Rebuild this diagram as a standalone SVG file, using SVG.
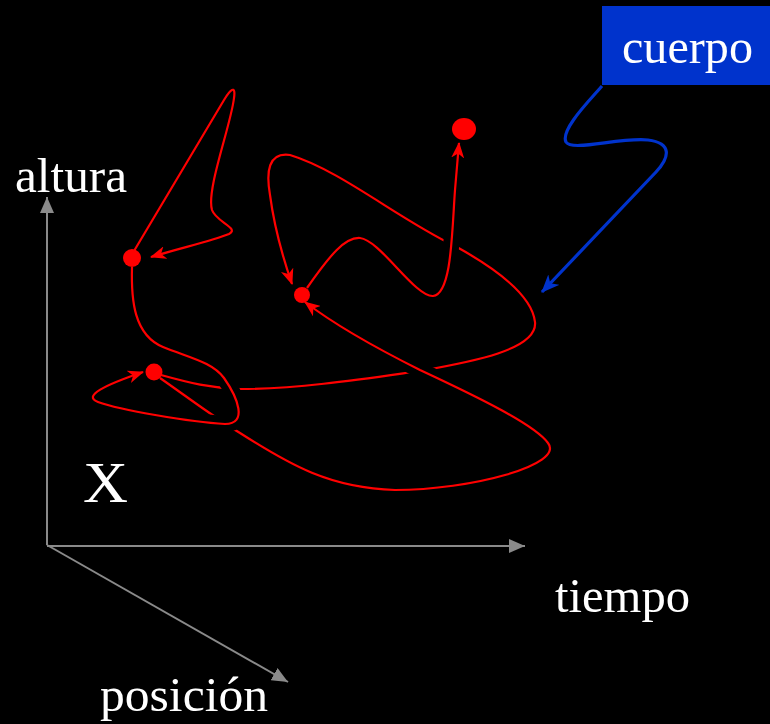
<svg xmlns="http://www.w3.org/2000/svg" width="770" height="724" viewBox="0 0 770 724">
<style>
.txt{font-family:"Liberation Serif","Times New Roman",serif;fill:#ffffff}
.axis{stroke:#8a8a8a;stroke-width:2;fill:none}
.red{stroke:#ff0000;stroke-width:2.2;fill:none;marker-end:url(#ra)}
.halo{stroke:#000000;stroke-width:16;fill:none}
.dot{fill:#ff0000}
</style>
<defs>
<marker id="ra" markerUnits="userSpaceOnUse" markerWidth="16" markerHeight="13" viewBox="0 0 16 13" refX="15" refY="6.5" orient="auto">
<path d="M0,0 L16,6.5 L0,13 L4.5,6.5 z" fill="#ff0000"/>
</marker>
<marker id="ba" markerUnits="userSpaceOnUse" markerWidth="18" markerHeight="15" viewBox="0 0 18 15" refX="17" refY="7.5" orient="auto">
<path d="M0,0 L18,7.5 L0,15 L5,7.5 z" fill="#0033cc"/>
</marker>
<marker id="ga" markerUnits="userSpaceOnUse" markerWidth="16" markerHeight="14" viewBox="0 0 16 14" refX="16" refY="7" orient="auto">
<path d="M0,0 L16,7 L0,14 z" fill="#8a8a8a"/>
</marker>
</defs>
<rect width="770" height="724" fill="#000000"/>

<g id="axes">
<line class="axis" x1="47" y1="545" x2="47" y2="197" marker-end="url(#ga)"/>
<line class="axis" x1="47" y1="546" x2="525" y2="546" marker-end="url(#ga)"/>
<line class="axis" x1="47" y1="545" x2="288" y2="682" marker-end="url(#ga)"/>
</g>

<g id="labels">
<text class="txt" x="15" y="192" font-size="48" textLength="112" lengthAdjust="spacingAndGlyphs">altura</text>
<text class="txt" x="83" y="502" font-size="58" textLength="45" lengthAdjust="spacingAndGlyphs">X</text>
<text class="txt" x="555" y="612" font-size="48" textLength="135" lengthAdjust="spacingAndGlyphs">tiempo</text>
<text class="txt" x="100" y="711" font-size="48" textLength="168" lengthAdjust="spacingAndGlyphs">posición</text>
</g>

<g id="cuerpo">
<rect x="602" y="6" width="168" height="79" fill="#0033cc"/>
<text class="txt" x="622" y="63" font-size="48" textLength="131" lengthAdjust="spacingAndGlyphs">cuerpo</text>
</g>

<g id="connectors">
<path id="c3" class="red" d="M161,375 C190,383 210,388 240,389 C300,389 370,378 420,371 C470,362 538,350 535,322 C532,295 495,268 455,246 C400,220 340,170 290,155 C268,152 266,172 270,195 C274,225 283,258 292,284"/>
<path class="halo" d="M470,394 C450,385 435,377 420,370 C405,363 392,356 380,351"/>
<path id="c4" class="red" d="M160,378 C190,399 215,418 240,433 C290,465 330,488 395,490 C470,490 565,465 548,443 C535,425 480,398 420,370 C380,350 335,325 305,302"/>
<path class="halo" d="M132,270 C131,300 134,335 163,347 C190,358 212,362 224,378 C238,398 248,424 225,424 C190,422 120,410 98,402 C82,396 105,385 138,374"/>
<path id="c2" class="red" d="M132,267 C131,300 134,335 163,347 C190,358 212,362 224,378 C238,398 248,424 225,424 C190,422 120,410 98,402 C82,396 105,385 143,372"/>
<path class="halo" d="M312,282 C330,255 345,237 360,238 C380,240 415,297 433,296 C452,294 452,230 455,190 L458,160"/>
<path id="c5" class="red" d="M307,288 C330,255 345,237 360,238 C380,240 415,297 433,296 C452,294 452,230 455,190 L459,143"/>
<path id="c1" class="red" d="M134,251 L224,100 C230,90 236,84 234,98 C231,125 206,190 212,210 C216,222 240,228 229,234 C212,241 180,248 151,257"/>
<path id="cb" d="M602,86 C590,100 560,130 566,142 C572,152 620,137 648,140 C672,143 670,157 656,172 L542,292" stroke="#0033cc" stroke-width="3.2" fill="none" marker-end="url(#ba)"/>
</g>

<g id="dotA"><circle class="dot" cx="132" cy="258" r="9"/></g>
<g id="dotB"><circle class="dot" cx="154" cy="372" r="8.5"/></g>
<g id="dotC"><circle class="dot" cx="302" cy="295" r="8"/></g>
<g id="dotD"><ellipse class="dot" cx="464" cy="129" rx="12" ry="11"/></g>
</svg>
